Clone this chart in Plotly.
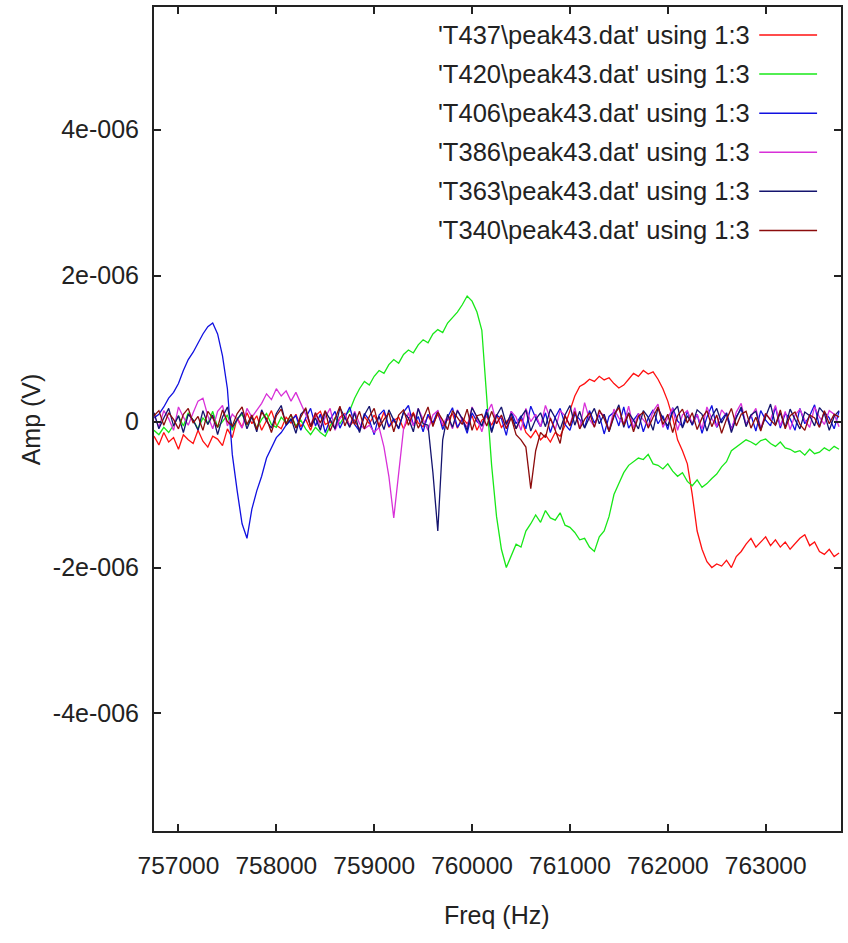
import plotly.graph_objects as go

# Frequency grid (Hz), 50 Hz steps from 756750 to 763750
FREQ = list(range(756750, 763751, 50))

# Amplitudes in units of 1e-8 V
T437 = [-20, -32, -15, -28, -22, -38, -18, -25, -30, -12, -27, -35, -20, -24, -33, -10, -22,
        5, -8, 12, -3, 8, -12, 2, 15, -5, -10, 6, -2, 10, -7,
        3, -12, 8, 14, -4, 0, -9, 6, 11, -6, 2, -11, 7, -3,
        9, -5, 13, -8, 1, 6, -10, 4, 12, -2, -7, 8, -4, 10,
        -6, 3, 11, -9, 5, -3, 8, -12, 2, 7, -5, 10, -8, 0,
        6, -10, 4, -15, -22, -12, -25, -18, -28, -15, -20, -5,
        15, 35, 48, 52, 58, 55, 62, 57, 60, 52, 46, 50, 58, 66, 62, 70, 65, 68, 58, 45,
        28, 5, -25, -40, -58, -100, -150, -175, -192, -200, -195, -198, -190, -200, -185, -178,
        -168, -160, -172, -165, -158, -170, -162, -172, -165, -175, -168, -160, -155, -170,
        -165, -178, -182, -175, -185, -180]

T420 = [-12, -18, -8, -15, -5,
        8, -6, 12, 2, -10, 5, -3, 14, -8, 0, 9, -12, 4, 10, -5, 7, -9, 3, 11, -4, -8, 6, -2, 9, -6, 2,
        -10, -18, -8, -15, -20, -6,
        5, -3, 8, 15,
        32, 45, 55, 50, 62, 70, 66, 78, 85, 80, 92, 98, 94, 105, 112, 108, 120, 126, 122, 135,
        142, 150, 160, 172, 165,
        150, 125, 30, -60, -130, -175, -200, -185, -168, -172, -150, -140, -128, -138, -122, -132,
        -135, -125, -142, -145, -152, -162, -160, -172, -178, -158, -150,
        -130, -100, -85, -70, -60, -55, -50, -52, -45, -58, -60, -65, -58, -68, -75, -70, -82,
        -88, -80, -90, -85, -78, -72, -62, -55, -40, -35, -30, -25, -28, -32, -26, -24, -30,
        -34, -28, -36, -38, -42, -40, -46, -38, -44, -42, -36, -40, -34, -38]

T406 = [5, 10, 20, 32, 40, 52, 70, 85, 95, 108, 120, 130, 135, 120, 90, 45, -45, -95, -140,
        -160, -120, -95, -75, -50, -35, -22, -15, -5, 2,
        8, -12, 5, 18, -6, 10, -15, 3, 14, -9,
        6, 20, -4, -13, 11, 2, -18, 9, 16, -7,
        4, -10, 13, 22, -5, 7, -14, 10, -2, 15,
        -11, 6, 19, -8, 3, -16, 12, 0, -6, 17,
        -13, 9, 4, -19, 14, -3, 8, -10, 21, 5,
        -7, 12, -15, 6, 18, -4, -12, 10, 3, -8,
        15, -2, 9, -17, 7, 13, -6, 20, -9, 2,
        11, -14, 5, 16, -3, 8, -11, 19, 1, -7,
        14, -5, 10, -16, 6, 22, -8, 3, 12, -10,
        7, 17, -4, 9, -13, 15, 2, -6, 20, -9,
        11, 4, -12, 18, -3, 8, 23, -7, 13, 5,
        -10, 14]

T386 = [10, -8, 15, 4, -12, 20, 6, -5, 12, 28,
        32, 8, -10, 14, 22, -6, 10, 3, -9, 18,
        6, 15, 25, 38, 30, 45, 35, 42, 28, 40,
        25, 10, -5, 12, -8, 6, 18, -12, 4, 10,
        -6, 14, -3, -10, -5, -15, -8, -35, -75,
        -132, -70, -10,
        12, -6, 18, 3, -12, 9, 15, -4, 7, -10,
        16, 2, -8, 20, 5, -14, 11, 24, -3, 8,
        -9, 14, 6, -12, 18, 0, 10, -7, 22, 4,
        -11, 15, 8, -5, 19, -10, 26, 3, -7, 12,
        9, -13, 17, 5, -4, 21, -9, 11, 2, -6,
        14, 24, -8, 6, 18, -12, 9, 15, -3, 10,
        -10, 20, 4, -7, 16, 8, -12, 13, 25, -5,
        7, 18, -9, 11, 3, 22, -6, 14, -11, 9,
        17, 2, -8, 20, 6, -4, 15, 10, -7]

T363 = [12, -10, 5, 18, -6, 8, -15, 10, 2, -12,
        15, -4, 9, -18, 6, 20, -8, 3, 13, -10,
        7, -14, 16, 1, -9, 11, 22, -5, 4, -16,
        10, 17, -7, 5, -12, 14, 3, -10, 19, 6,
        -8, 12, -15, 9, 21, -4, 7, -11, 16, 2,
        -9, 13, 5, -14, 18, -3,
        -5, -70, -150, -25,
        10, -8, 15, 4, -12, 19, 7, -6, 13, -15,
        8, 20, -4, 11, -10, 6, 16, -13, 3, 12,
        -7, 17, 5, -11, 9, 22, -5, 14, -9, 6,
        18, -3, 10, -14, 7, 23, -8, 12, 2, -10,
        15, 6, -12, 19, 4, -6, 13, 21, -9, 8,
        -4, 16, 10, -13, 7, 18, -2, 11, -15, 5,
        20, -7, 9, 14, -11, 6, 24, -5, 12, -8,
        17, 3, -10, 13, 8, -6, 19, 11, -12, 7, 15]

T340 = [8, 15, -5, 12, 3, -10, 10, 18, -2, 7,
        -12, 14, 5, -8, 16, 0, -6, 11, 20, -4,
        9, -11, 13, 4, -15, 8, 17, -3, 10, -9,
        6, 19, -7, 12, -2, 15, -13, 5, 21, -6,
        10, -4, 14, -10, 7, 18, -8, 3, 12, -14,
        9, 16, -5, 11, -9, 4, 20, -7, 13, 2,
        -11, 15, 6, -4, 17, -12, 8, 10, -6, 14,
        -3, 9, -10, 5, -18, -25, -35, -92, -40, -15,
        -22, 5, -12, -30, 8, -6, 14, -10, 3, 12,
        -8, 16, 4, -13, 9, 19, -5, 11, -14, 7,
        13, -9, 6, 20, -4, 10, -15, 8, 17, -2,
        12, -11, 5, 15, -7, 9, -16, 3, 18, -6,
        10, 14, -9, 6, -13, 11, 2, -5, 16, -10,
        8, 13, -4, -12, 9, 5, -8, 15, -3, 10, 6]

NAMES = ["'T437\\peak43.dat' using 1:3", "'T420\\peak43.dat' using 1:3",
         "'T406\\peak43.dat' using 1:3", "'T386\\peak43.dat' using 1:3",
         "'T363\\peak43.dat' using 1:3", "'T340\\peak43.dat' using 1:3"]
SERIES = [T437, T420, T406, T386, T363, T340]
COLORS = ["#ff1010", "#18e818", "#1010e0", "#d830d8", "#14146e", "#8c0c0c"]

XTICKS = [757000, 758000, 759000, 760000, 761000, 762000, 763000]
YTICKS = [-4e-6, -2e-6, 0, 2e-6, 4e-6]
YTICKTEXT = ["-4e-006", "-2e-006", "0", "2e-006", "4e-006"]

FONT = "Liberation Sans, Arial, sans-serif"
W, H = 848, 943
L, R, T, B = 154, 5, 5, 112
PW, PH = W - L - R, H - T - B

fig = go.Figure()
for name, vals, col in zip(NAMES, SERIES, COLORS):
    fig.add_trace(go.Scatter(x=FREQ, y=[v * 1e-8 for v in vals], mode="lines",
                             name=name, line=dict(color=col, width=1.3), showlegend=False))

def px(xp):
    return (xp - L) / PW

def py(yp):
    return (H - B - yp) / PH

annotations = []
shapes = []
for k, (name, col) in enumerate(zip(NAMES, COLORS)):
    yrow = 33 + 39.2 * k
    annotations.append(dict(x=px(754), y=py(yrow), xref="paper", yref="paper",
                            text=name, showarrow=False, xanchor="right", yanchor="middle",
                            font=dict(family=FONT, size=25.5, color="#222")))
    shapes.append(dict(type="line", xref="paper", yref="paper",
                       x0=px(761), x1=px(819), y0=py(yrow), y1=py(yrow),
                       line=dict(color=col, width=1.5)))

annotations.append(dict(x=px(31), y=0.5, xref="paper", yref="paper", text="Amp (V)",
                        textangle=-90, showarrow=False, xanchor="center", yanchor="middle",
                        font=dict(family=FONT, size=25, color="#222")))
annotations.append(dict(x=px(498), y=py(915), xref="paper", yref="paper", text="Freq (Hz)",
                        showarrow=False, xanchor="center", yanchor="middle",
                        font=dict(family=FONT, size=25, color="#222")))

fig.update_layout(
    width=W, height=H,
    margin=dict(l=L, r=R, t=T, b=B, pad=0),
    paper_bgcolor="white", plot_bgcolor="white",
    annotations=annotations, shapes=shapes,
    font=dict(family=FONT, size=25, color="#222"),
)
fig.update_xaxes(range=[756750, 763770], tickvals=XTICKS, tickformat="d",
                 ticks="inside", ticklen=7, tickwidth=1.5, tickcolor="#222",
                 showline=True, linewidth=2, linecolor="#222", mirror="ticks",
                 showgrid=False, zeroline=False, ticklabelstandoff=12,
                 tickfont=dict(size=24.5))
fig.update_yaxes(range=[-5.61e-6, 5.68e-6], tickvals=YTICKS, ticktext=YTICKTEXT,
                 ticks="inside", ticklen=7, tickwidth=1.5, tickcolor="#222",
                 showline=True, linewidth=2, linecolor="#222", mirror="ticks",
                 showgrid=False, zeroline=False, ticklabelstandoff=8,
                 tickfont=dict(size=25))

fig.write_html("out.html")
